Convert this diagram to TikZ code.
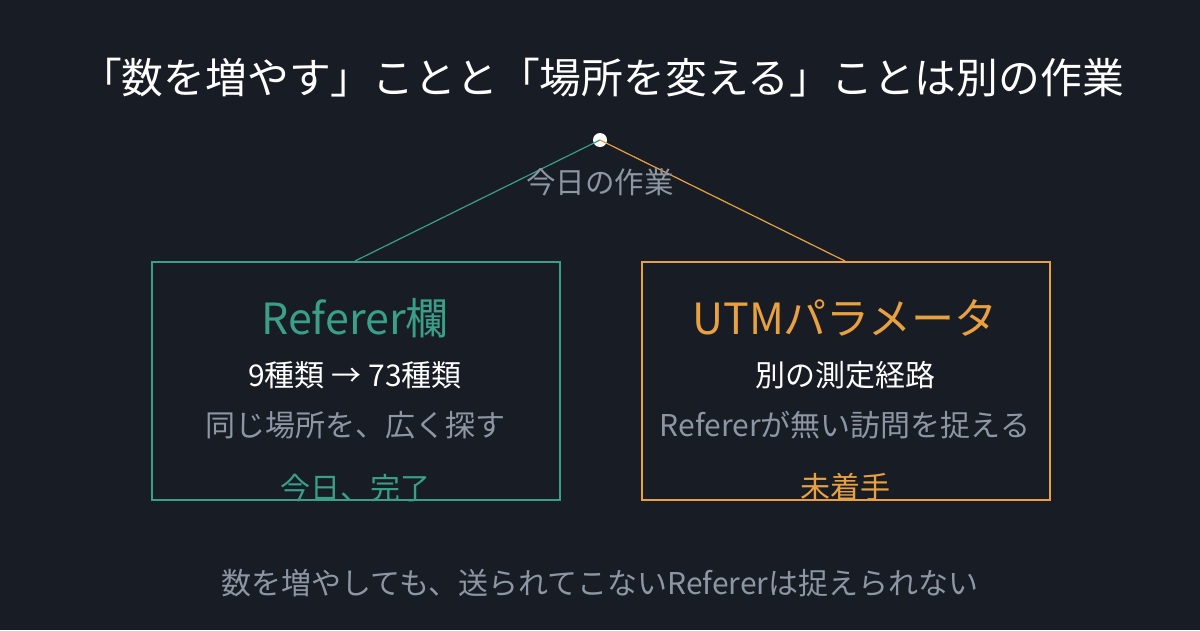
\documentclass[tikz,border=0pt]{standalone}
\usepackage{fontspec}
\setmainfont{Noto Sans CJK JP}
\definecolor{bg}{HTML}{171C25}
\definecolor{grn}{HTML}{3A9E88}
\definecolor{org}{HTML}{E8A040}
\definecolor{gry}{HTML}{8E96A3}
\begin{document}
\begin{tikzpicture}[x=1pt,y=-1pt,
  t/.style={anchor=center,inner sep=0pt},
  box/.style={draw,line width=2pt,minimum width=408pt,minimum height=238pt,anchor=north west,inner sep=0pt}]
\fill[bg] (0,0) rectangle (1200,630);
\useasboundingbox (0,0) rectangle (1200,630);
\node[t,text=white,font=\fontsize{41.8}{48}\selectfont] (title) at (602,78) {「数を増やす」ことと「場所を変える」ことは別の作業};
\node[box,draw=grn] (L) at (151,261) {};
\node[box,draw=org] (R) at (641,261) {};
\coordinate (lt) at (355,261);
\coordinate (rt) at (845,261);
\node[circle,fill=white,minimum size=14pt,inner sep=0pt] (dot) at (600,140) {};
\draw[grn,line width=1.2pt] (dot.center) -- (lt);
\draw[org,line width=1.2pt] (dot.center) -- (rt);
\node[t,text=gry,font=\fontsize{29.5}{34}\selectfont] (today) at (600,182) {今日の作業};
\node[t,text=grn,font=\fontsize{43}{48}\selectfont] (l1) at (355,318) {Referer欄};
\node[t,text=white,font=\fontsize{30}{34}\selectfont] (l2) at (355,375) {9種類 → 73種類};
\node[t,text=gry,font=\fontsize{30}{34}\selectfont] (l3) at (355,425) {同じ場所を、広く探す};
\node[t,text=grn,font=\fontsize{30}{34}\selectfont] (l4) at (355,488) {今日、完了};
\node[t,text=org,font=\fontsize{43}{48}\selectfont] (r1) at (845,318) {UTMパラメータ};
\node[t,text=white,font=\fontsize{30}{34}\selectfont] (r2) at (845,375) {別の測定経路};
\node[t,text=gry,font=\fontsize{30}{34}\selectfont] (r3) at (845,425) {Refererが無い訪問を捉える};
\node[t,text=org,font=\fontsize{30}{34}\selectfont] (r4) at (845,487) {未着手};
\node[t,text=gry,font=\fontsize{30}{34}\selectfont] (foot) at (600,583) {数を増やしても、送られてこないRefererは捉えられない};
\end{tikzpicture}
\end{document}
